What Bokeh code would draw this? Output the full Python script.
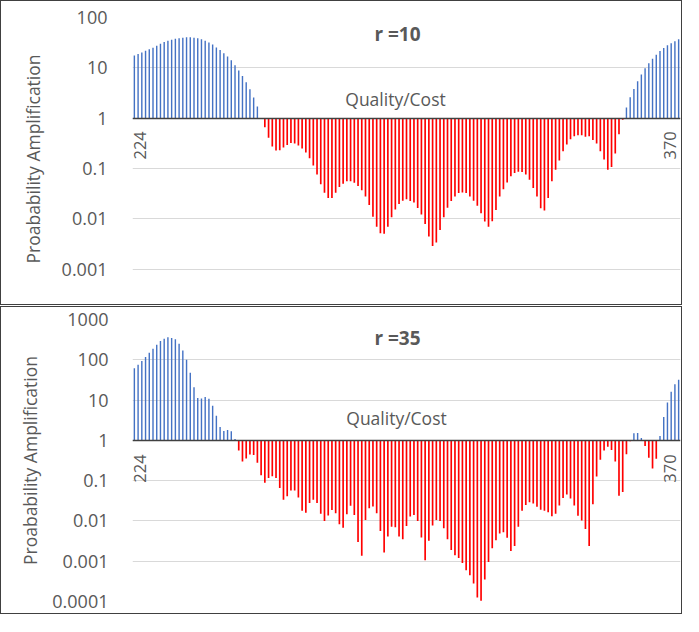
import math
import numpy as np
from bokeh.plotting import figure
from bokeh.layouts import column
from bokeh.models import FixedTicker, Label, Range1d
from bokeh.embed import file_html
from bokeh.resources import INLINE

# ---------------- data ----------------
categories = list(range(224, 371))

r10_values = [
    17.6, 18.8, 20.2, 21.9, 23.3, 25.0, 27.5, 30.0, 32.5, 34.5,
    36.3, 38.0, 38.7, 39.8, 40.4, 40.4, 39.8, 38.7, 36.8, 34.5,
    32.0, 29.0, 25.5, 22.6, 19.6, 16.8, 14.2, 11.3, 8.9, 6.9,
    5.2, 3.74, 2.59, 1.71, 1.0,
    0.66, 0.41, 0.275, 0.229, 0.232, 0.263, 0.293, 0.321, 0.316, 0.288,
    0.25, 0.209, 0.161, 0.115,
    0.076, 0.049, 0.033, 0.026, 0.026, 0.033, 0.043, 0.05, 0.056, 0.056,
    0.052, 0.045, 0.037, 0.028, 0.019, 0.011, 0.007, 0.0052, 0.0051, 0.007,
    0.0108, 0.0153, 0.0198, 0.023, 0.0245, 0.0226, 0.0213, 0.0165, 0.0122, 0.0079,
    0.0045, 0.0029, 0.0034, 0.006, 0.0108, 0.0166, 0.0226, 0.028, 0.0326, 0.0336,
    0.0326, 0.028, 0.023, 0.0182, 0.013, 0.0089, 0.007, 0.009, 0.0151, 0.028,
    0.039, 0.053, 0.07, 0.082, 0.086, 0.085, 0.076, 0.06, 0.041, 0.028,
    0.0163, 0.0147, 0.026, 0.056, 0.095, 0.145, 0.222, 0.30, 0.38, 0.44,
    0.457, 0.457, 0.43, 0.44, 0.37, 0.316, 0.222, 0.151, 0.095, 0.108,
    0.2, 0.48, 0.93,
    1.63, 2.6, 3.8, 5.4, 7.4, 9.8, 12.4, 15.1, 18.2, 21.5,
    24.7, 28.0, 30.7, 33.6, 36.9,
]

r35_values = [
    62, 75, 93, 117, 150, 188, 237, 293, 335, 361,
    347, 322, 251, 171, 100, 48, 20.7, 11.2, 11.0, 11.9,
    10.8, 7.2, 4.06, 2.15, 1.71, 1.81, 1.68, 1.08,
    0.56, 0.30, 0.355, 0.447, 0.43, 0.277, 0.136, 0.089, 0.117, 0.128,
    0.117, 0.066, 0.0335, 0.041, 0.057, 0.057, 0.038, 0.018, 0.016, 0.0277,
    0.0335, 0.0277, 0.015, 0.01, 0.0136, 0.0188, 0.0155, 0.0083, 0.0068, 0.0147,
    0.0237, 0.0141, 0.003, 0.00136, 0.0106, 0.0207, 0.0228, 0.0155, 0.0056, 0.00165,
    0.0041, 0.0072, 0.007, 0.0041, 0.0035, 0.0075, 0.0128, 0.0141, 0.01, 0.0039,
    0.00106, 0.0032, 0.0077, 0.0106, 0.01, 0.0066, 0.0035, 0.0019, 0.0014, 0.0012,
    0.0009, 0.0006, 0.00045, 0.00028, 0.000126, 0.000105, 0.00035, 0.00096, 0.0021, 0.0033,
    0.0049, 0.0052, 0.0038, 0.0018, 0.0024, 0.0072, 0.0178,
    0.025, 0.029, 0.027, 0.0224, 0.019, 0.018, 0.0165, 0.013, 0.015, 0.024,
    0.037, 0.045, 0.036, 0.024, 0.0135, 0.0102, 0.0063, 0.0024, 0.026, 0.126,
    0.33, 0.56, 0.69, 0.58, 0.30, 0.042, 0.052, 0.45, 0.95, 1.5,
    1.52, 1.14, 0.72, 0.37, 0.2, 0.35, 1.28, 3.8, 8.7, 16.2,
    24.6, 32.0,
]

r10_y_ticks = [0.001, 0.01, 0.1, 1, 10, 100]
r10_y_tick_labels = ["0.001", "0.01", "0.1", "1", "10", "100"]
r35_y_ticks = [0.0001, 0.001, 0.01, 0.1, 1, 10, 100, 1000]
r35_y_tick_labels = ["0.0001", "0.001", "0.01", "0.1", "1", "10", "100", "1000"]

x_tick_values = [224, 370]
x_tick_labels = ["224", "370"]

r10_title = "r =10"
r35_title = "r =35"
y_title = "Proabability Amplification"
x_title = "Quality/Cost"

# ---------------- style ----------------
FONT = "Open Sans"
TXT = "#595959"
BLUE = "#4472C4"
RED = "#FF0000"


def make_panel(values, title, yticks, ylabels, ymin, ymax, fw, fh,
               left, top, bottom, label_standoff, title_standoff,
               title_x, title_y, xt_x, xt_off, tick_drop):
    p = figure(frame_width=fw, frame_height=fh,
               x_range=Range1d(223.5, 370.5),
               y_range=Range1d(ymin, ymax),
               y_axis_type="log",
               output_backend="svg", toolbar_location=None,
               min_border_left=left, min_border_right=3,
               min_border_top=top, min_border_bottom=bottom,
               background_fill_color="white", border_fill_color="white",
               styles={"border": "1.5px solid #404040"})
    p.outline_line_color = None

    cats = np.array(categories, dtype=float)
    vals = np.array(values, dtype=float)
    up = vals >= 1
    p.vbar(x=cats[up], width=0.38, bottom=1, top=vals[up],
           fill_color=BLUE, line_color=None)
    p.vbar(x=cats[~up], width=0.45, bottom=1, top=vals[~up],
           fill_color=RED, line_color=None)

    # y axis
    yt = FixedTicker(ticks=yticks)
    ya = p.yaxis[0]
    ya.ticker = yt
    ya.major_label_overrides = dict(zip(yticks, ylabels))
    ya.major_tick_line_color = None
    ya.major_tick_out = 0
    ya.major_tick_in = 0
    ya.minor_tick_line_color = None
    ya.minor_tick_out = 0
    ya.axis_line_color = None
    ya.major_label_standoff = label_standoff
    ya.major_label_text_font = FONT
    ya.major_label_text_font_size = "18px"
    ya.major_label_text_color = TXT
    ya.axis_label = y_title
    ya.axis_label_text_font = FONT
    ya.axis_label_text_font_size = "17.5px"
    ya.axis_label_text_font_style = "normal"
    ya.axis_label_text_color = TXT
    ya.axis_label_standoff = title_standoff

    p.ygrid.ticker = yt
    p.ygrid.grid_line_color = "#d9d9d9"
    p.ygrid.grid_line_width = 1
    p.xgrid.visible = False

    # category axis line crossing at 1 (labels drawn separately)
    xa = p.xaxis[0]
    xa.fixed_location = 1
    xa.ticker = FixedTicker(ticks=x_tick_values)
    xa.major_label_text_color = None
    xa.major_tick_line_color = None
    xa.major_tick_out = 0
    xa.minor_tick_line_color = None
    xa.axis_line_color = "#404040"
    xa.axis_line_width = 1.5

    for i, (xv, xl) in enumerate(zip(x_tick_values, x_tick_labels)):
        p.add_layout(Label(x=xv, y=1, x_units="data", y_units="data",
                           x_offset=(-9 if i == len(x_tick_values) - 1 else 6),
                           y_offset=-tick_drop, angle=math.pi / 2,
                           text=xl, text_align="right", text_baseline="alphabetic",
                           text_font=FONT, text_font_size="16.5px",
                           text_color=TXT))

    p.add_layout(Label(x=title_x, y=title_y, x_units="screen", y_units="screen",
                       text=title, text_align="center", text_baseline="middle",
                       text_font=FONT, text_font_size="19px", text_font_style="bold",
                       text_color=TXT))
    p.add_layout(Label(x=xt_x, y=1, x_units="screen", y_units="data",
                       y_offset=xt_off, text=x_title, text_align="center",
                       text_baseline="middle", text_font=FONT,
                       text_font_size="17.5px", text_color=TXT))
    return p


p1 = make_panel(r10_values, r10_title, r10_y_ticks, r10_y_tick_labels,
                10 ** -3.62, 100, 546, 281, 131, 16, 6, 25, 14,
                265, 267, 263, 19, 13)
p2 = make_panel(r35_values, r35_title, r35_y_ticks, r35_y_tick_labels,
                0.0001, 1000, 546, 280, 131, 12, 14, 24, 7,
                265, 264, 264, 22, 14)

layout = column(p1, p2, spacing=1)
open("out.html", "w").write(file_html(layout, INLINE))
